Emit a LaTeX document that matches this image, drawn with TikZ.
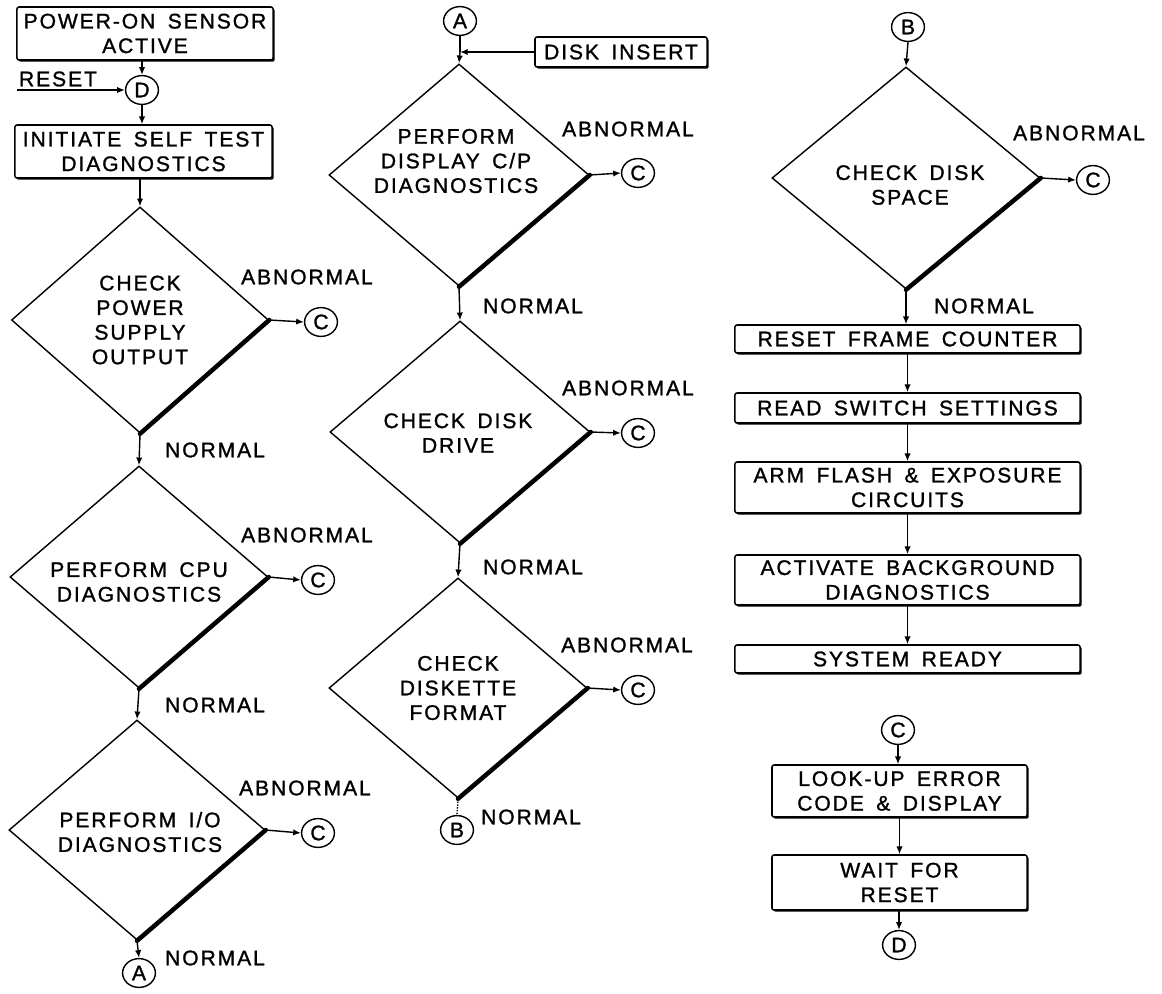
\documentclass[tikz,border=0pt]{standalone}
\usepackage{fontspec}
\setmainfont{Liberation Sans}[LetterSpace=9,WordSpace=1.6,FakeBold=1.2]
\usetikzlibrary{shapes.geometric,arrows.meta,shadows}
\begin{document}
\begin{tikzpicture}[x=0.025cm,y=-0.025cm,
  every node/.style={font=\fontsize{15}{17.5}\selectfont, inner sep=0pt},
  procbox/.style={draw, line width=1.1pt, fill=white, rounded corners=1.5pt, align=center,
    drop shadow={shadow xshift=1.2pt, shadow yshift=-1.2pt, fill=black, opacity=1}},
  dia/.style={draw, diamond, line width=1pt},
  thickedge/.style={line width=3.2pt, line cap=round},
  conn/.style={draw, ellipse, line width=1pt, minimum width=0.82cm, minimum height=0.72cm},
  flow/.style={line width=1pt, -{Latex[length=5.5pt,width=4.5pt]}},
  dtext/.style={align=center}
]
\useasboundingbox (0,0) rectangle (1162,993);
\fill[white] (0,0) rectangle (1162,993);

% ---------------- left column ----------------
\node[procbox, minimum width=6.4cm, minimum height=1.325cm] (pon) at (145,33.5) {POWER-ON SENSOR\\ACTIVE};
\node[conn] (D1) at (142,90) {D};
\coordinate (rst) at (17,90);
\node (rstlbl) at (58,79) {RESET};
\node[procbox, minimum width=6.425cm, minimum height=1.325cm] (init) at (143.5,151.5) {INITIATE SELF TEST\\DIAGNOSTICS};

\node[dia, minimum width=6.425cm, minimum height=5.65cm] (d1) at (140,320) {};
\node[dtext] (d1t) at (140,320) {CHECK\\POWER\\SUPPLY\\OUTPUT};
\node[conn] (c1) at (321,322) {C};
\node (ab1) at (307,277) {ABNORMAL};
\node (n1) at (215,450) {NORMAL};

\node[dia, minimum width=6.45cm, minimum height=5.55cm] (d2) at (139,577) {};
\node[dtext] (d2t) at (139,582) {PERFORM CPU\\DIAGNOSTICS};
\node[conn] (c2) at (318,580) {C};
\node (ab2) at (307,535) {ABNORMAL};
\node (n2) at (215,705) {NORMAL};

\node[dia, minimum width=6.4cm, minimum height=5.5cm] (d3) at (137,830) {};
\node[dtext] (d3t) at (140,832) {PERFORM I/O\\DIAGNOSTICS};
\node[conn] (c3) at (318,833) {C};
\node (ab3) at (305,788) {ABNORMAL};
\node (n3) at (215,958) {NORMAL};
\node[conn] (A1) at (139,973) {A};

% ---------------- middle column ----------------
\node[conn] (A2) at (460,21) {A};
\node[procbox, minimum width=4.3cm, minimum height=0.75cm] (disk) at (621,52) {DISK INSERT};
\coordinate (jn) at (A2 |- disk.west);

\node[dia, minimum width=6.5cm, minimum height=5.55cm] (d4) at (459,175) {};
\node[dtext] (d4t) at (456,161) {PERFORM\\DISPLAY C/P\\DIAGNOSTICS};
\node[conn] (c4) at (638,173) {C};
\node (ab4) at (628,129) {ABNORMAL};
\node (n4) at (533,306) {NORMAL};

\node[dia, minimum width=6.5cm, minimum height=5.55cm] (d5) at (460,432) {};
\node[dtext] (d5t) at (458,433) {CHECK DISK\\DRIVE};
\node[conn] (c5) at (638,433) {C};
\node (ab5) at (628,388) {ABNORMAL};
\node (n5) at (533,567) {NORMAL};

\node[dia, minimum width=6.45cm, minimum height=5.5cm] (d6) at (458,688) {};
\node[dtext] (d6t) at (458,688) {CHECK\\DISKETTE\\FORMAT};
\node[conn] (c6) at (638,690) {C};
\node (ab6) at (627,645) {ABNORMAL};
\node (n6) at (531,817) {NORMAL};
\node[conn] (B1) at (457,830) {B};

% ---------------- right column ----------------
\node[conn] (B2) at (908,27) {B};
\node[dia, minimum width=6.7cm, minimum height=5.55cm] (d7) at (906,178) {};
\node[dtext] (d7t) at (910,185) {CHECK DISK\\SPACE};
\node[conn] (c7) at (1093,180) {C};
\node (ab7) at (1079,133) {ABNORMAL};
\node (n7) at (984,306) {NORMAL};

\node[procbox, minimum width=8.625cm, minimum height=0.7cm] (rfc) at (907.5,339) {RESET FRAME COUNTER};
\node[procbox, minimum width=8.625cm, minimum height=0.75cm] (rss) at (907.5,408) {READ SWITCH SETTINGS};
\node[procbox, minimum width=8.625cm, minimum height=1.275cm] (arm) at (907.5,487.5) {ARM FLASH \& EXPOSURE\\CIRCUITS};
\node[procbox, minimum width=8.625cm, minimum height=1.25cm] (act) at (907.5,580) {ACTIVATE BACKGROUND\\DIAGNOSTICS};
\node[procbox, minimum width=8.625cm, minimum height=0.7cm] (sr) at (907.5,659) {SYSTEM READY};

\node[conn] (C3) at (898,730) {C};
\node[procbox, minimum width=6.375cm, minimum height=1.3cm] (lu) at (899.5,791) {LOOK-UP ERROR\\CODE \& DISPLAY};
\node[procbox, minimum width=6.375cm, minimum height=1.375cm] (wt) at (899.5,882.5) {WAIT FOR\\RESET};
\node[conn] (D2) at (899,945) {D};

% ---------------- connectors ----------------
\draw[flow] (D1.north |- pon.south) -- (D1.north);
\draw[flow] (rst) -- (D1.west);
\draw[flow] (D1.south) -- (D1.south |- init.north);
\draw[flow] (d1.north |- init.south) -- (d1.north);

\draw[thickedge] (d1.east) -- (d1.south);
\draw[flow] (d1.east) -- (c1.west);
\draw[flow] (d1.south) -- (d2.north);
\draw[thickedge] (d2.east) -- (d2.south);
\draw[flow] (d2.east) -- (c2.west);
\draw[flow] (d2.south) -- (d3.north);
\draw[thickedge] (d3.east) -- (d3.south);
\draw[flow] (d3.east) -- (c3.west);
\draw[flow] (d3.south) -- (A1.north);

\draw[line width=1pt] (A2.south) -- (jn);
\draw[flow] (jn) -- (d4.north);
\draw[flow] (disk.west) -- (jn);
\draw[thickedge] (d4.east) -- (d4.south);
\draw[flow] (d4.east) -- (c4.west);
\draw[flow] (d4.south) -- (d5.north);
\draw[thickedge] (d5.east) -- (d5.south);
\draw[flow] (d5.east) -- (c5.west);
\draw[flow] (d5.south) -- (d6.north);
\draw[thickedge] (d6.east) -- (d6.south);
\draw[flow] (d6.east) -- (c6.west);
\draw[line width=1pt, densely dotted] (d6.south) -- (B1.north);

\draw[flow] (B2.south) -- (d7.north);
\draw[thickedge] (d7.east) -- (d7.south);
\draw[flow] (d7.east) -- (c7.west);
\draw[flow] (d7.south) -- (d7.south |- rfc.north);
\draw[flow] (rfc.south) -- (rss.north);
\draw[flow] (rss.south) -- (arm.north);
\draw[flow] (arm.south) -- (act.north);
\draw[flow] (act.south) -- (sr.north);

\draw[flow] (C3.south) -- (C3.south |- lu.north);
\draw[flow] (lu.south) -- (wt.north);
\draw[flow] (D2.north |- wt.south) -- (D2.north);
\end{tikzpicture}
\end{document}
